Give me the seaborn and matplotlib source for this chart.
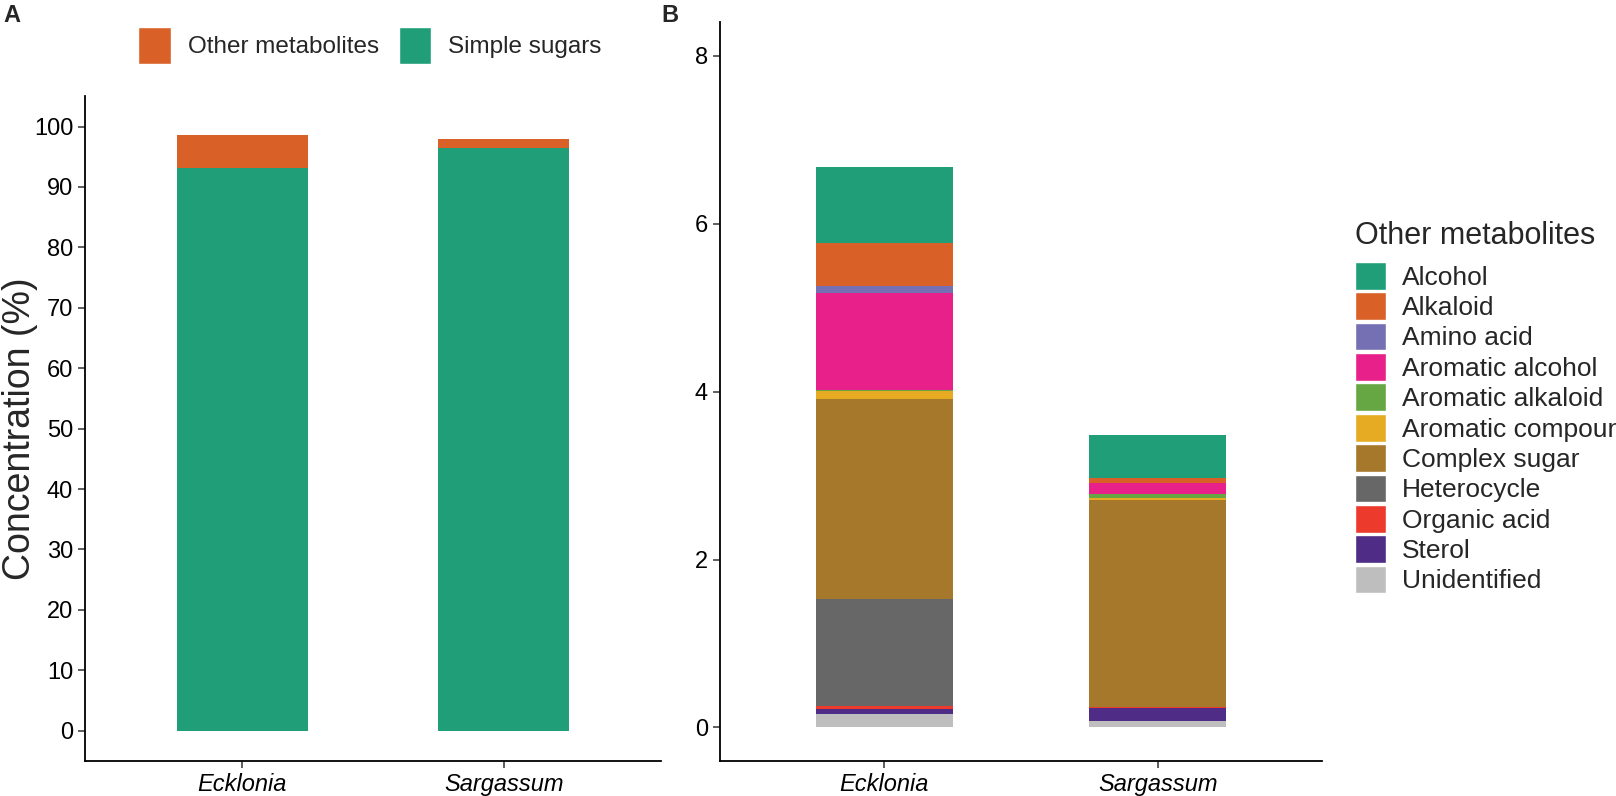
import numpy as np
import pandas as pd
from matplotlib import pyplot as plt
from matplotlib.patches import Patch
import seaborn as sns

sns.set_style("ticks")
plt.rcParams['font.family'] = ['Liberation Sans', 'DejaVu Sans']

# Datos del panel A
genera = ["Ecklonia", "Sargassum"]
simple_sugars = [93.2, 96.45]
other_metabolites = [5.4, 1.53]

# Datos del panel B (orden de abajo hacia arriba en la pila)
classes = ["Unidentified", "Sterol", "Organic acid", "Heterocycle", "Complex sugar",
           "Aromatic compound", "Aromatic alkaloid", "Aromatic alcohol",
           "Amino acid", "Alkaloid", "Alcohol"]
ecklonia = [0.16, 0.056, 0.035, 1.28, 2.38, 0.10, 0.012, 1.15, 0.09, 0.51, 0.90]
sargassum = [0.08, 0.155, 0.012, 0.0, 2.465, 0.02, 0.045, 0.14, 0.0, 0.05, 0.52]

colores = {
    "Alcohol": "#1F9E78", "Alkaloid": "#D96027", "Amino acid": "#7570B3",
    "Aromatic alcohol": "#E7208A", "Aromatic alkaloid": "#66A743",
    "Aromatic compound": "#E6AB22", "Complex sugar": "#A6782C",
    "Heterocycle": "#666766", "Organic acid": "#EC3B2D", "Sterol": "#4F2C85",
    "Unidentified": "#BEBEBE",
}

fig = plt.figure(figsize=(16.16, 7.96), dpi=100)
axA = fig.add_axes([0.0526, 0.044, 0.3564, 0.835])
axB = fig.add_axes([0.4455, 0.044, 0.3725, 0.928])

# Panel A: barras apiladas dibujadas de arriba hacia abajo
dfA = pd.DataFrame({"genus": genera,
                    "total": np.array(simple_sugars) + np.array(other_metabolites),
                    "simple": simple_sugars})
sns.barplot(data=dfA, x="genus", y="total", color=colores["Alkaloid"], width=0.5,
            saturation=1, linewidth=0, errorbar=None, ax=axA)
sns.barplot(data=dfA, x="genus", y="simple", color=colores["Alcohol"], width=0.5,
            saturation=1, linewidth=0, errorbar=None, ax=axA)
axA.set_ylim(-5, 105)
axA.set_xlim(-0.6, 1.6)
axA.set_yticks(range(0, 101, 10))
axA.set_xlabel("")
axA.set_ylabel("Concentration (%)", fontsize=27, labelpad=-3)

handlesA = [Patch(facecolor=colores["Alkaloid"], label="Other metabolites"),
            Patch(facecolor=colores["Alcohol"], label="Simple sugars")]
fig.legend(handles=handlesA, loc="center", bbox_to_anchor=(0.229, 0.943), ncol=2,
           frameon=False, fontsize=17.5, handlelength=1.35, handleheight=1.95,
           handletextpad=0.7, columnspacing=0.8)

# Panel B: sumas acumuladas
dfB = pd.DataFrame({"genus": np.repeat(genera, len(classes)),
                    "clase": classes * 2,
                    "valor": ecklonia + sargassum})
dfB["acum"] = dfB.groupby("genus")["valor"].cumsum()
for clase in classes[::-1]:
    sub = dfB[dfB.clase == clase]
    sns.barplot(data=sub, x="genus", y="acum", color=colores[clase], width=0.5,
                saturation=1, linewidth=0, errorbar=None, ax=axB, order=genera)
axB.set_ylim(-0.4, 8.4)
axB.set_xlim(-0.6, 1.6)
axB.set_yticks([0, 2, 4, 6, 8])
axB.set_xlabel("")
axB.set_ylabel("")

handlesB = [Patch(facecolor=colores[c], label=c) for c in classes[::-1]]
fig.text(0.8385, 0.6935, "Other metabolites", fontsize=22, va="baseline", ha="left")
fig.legend(handles=handlesB, loc="upper left", bbox_to_anchor=(0.8385, 0.671),
           frameon=False, fontsize=19, handlelength=1.17, handleheight=1.24,
           labelspacing=0.1, handletextpad=0.62, borderpad=0, borderaxespad=0)

for ax in (axA, axB):
    sns.despine(ax=ax)
    for s in ("left", "bottom"):
        ax.spines[s].set_linewidth(1.3)
        ax.spines[s].set_color("black")
    ax.tick_params(axis="both", labelsize=17, length=5, width=1.1, color="#333333",
                   labelcolor="black")
    for lab in ax.get_xticklabels():
        lab.set_fontstyle("italic")

fig.text(0.002, 0.995, "A", fontsize=17, fontweight="bold", va="top")
fig.text(0.409, 0.995, "B", fontsize=17, fontweight="bold", va="top")

fig.savefig("out.png", dpi=100)
